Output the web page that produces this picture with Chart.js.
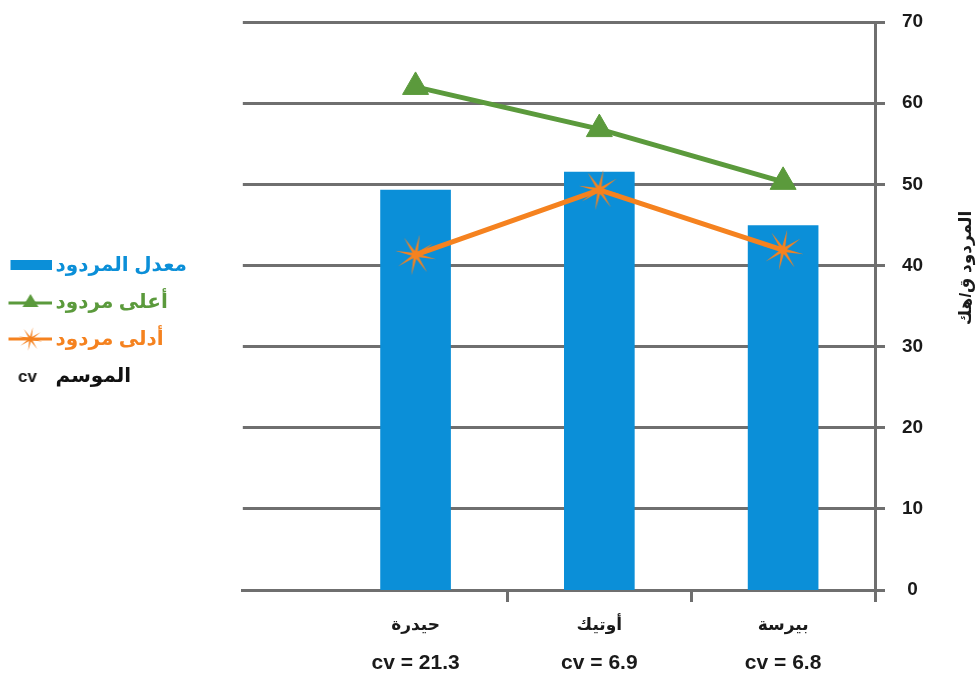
<!DOCTYPE html>
<html>
<head>
<meta charset="utf-8">
<title>المردود</title>
<script src="https://cdn.jsdelivr.net/npm/chart.js@4.4.0/dist/chart.umd.min.js"></script>
<style>
  body { margin: 0; background: #fff; }
  canvas { display: block; }
</style>
</head>
<body>
<canvas id="yieldChart" width="980" height="684"></canvas>
<script>
// values
const varieties = ['حيدرة', 'أوتيك', 'بيرسة'];
const meanYield = [49.3, 51.5, 44.9];
const maxYield = [62.0, 56.8, 50.3];
const minYield = [41.3, 49.3, 41.9];
const cvValues = [21.3, 6.9, 6.8];
const yTicks = [0, 10, 20, 30, 40, 50, 60, 70];

const legendNames = ['معدل المردود', 'أعلى مردود', 'أدلى مردود', 'الموسم'];
const yTitle = 'المردود ق/هك';

const BLUE = '#0b8fd8';
const GREEN = '#5b9a3c';
const ORANGE = '#f5821f';
const GRID = '#6f6f6f';
const FONT = '"Liberation Sans", "DejaVu Sans", Arial, sans-serif';

Chart.defaults.font.family = FONT;

// small canvases used as marker shapes
function makeIcon(w, h, draw) {
  const c = document.createElement('canvas');
  c.width = w;
  c.height = h;
  draw(c.getContext('2d'), w, h);
  return c;
}

function starPath(ctx, cx, cy, outer, inner) {
  ctx.beginPath();
  for (let i = 0; i < 16; i++) {
    const r = i % 2 ? inner : outer;
    const a = -Math.PI / 2 + i * Math.PI / 8 + 0.2;
    ctx.lineTo(cx + Math.cos(a) * r, cy + Math.sin(a) * r);
  }
  ctx.closePath();
}

const starMarker = makeIcon(44, 44, (ctx, w, h) => {
  ctx.fillStyle = ORANGE;
  starPath(ctx, w / 2, h / 2, 21, 4);
  ctx.fill();
});

const barIcon = makeIcon(44, 22, (ctx) => {
  ctx.fillStyle = BLUE;
  ctx.fillRect(3, 6, 42, 10);
});

const greenIcon = makeIcon(44, 22, (ctx) => {
  ctx.strokeStyle = GREEN;
  ctx.lineWidth = 3;
  ctx.beginPath();
  ctx.moveTo(1, 12);
  ctx.lineTo(44, 12);
  ctx.stroke();
  ctx.fillStyle = GREEN;
  ctx.beginPath();
  ctx.moveTo(23, 3);
  ctx.lineTo(31, 16);
  ctx.lineTo(15, 16);
  ctx.closePath();
  ctx.fill();
});

const orangeIcon = makeIcon(44, 26, (ctx) => {
  ctx.strokeStyle = ORANGE;
  ctx.lineWidth = 3;
  ctx.beginPath();
  ctx.moveTo(1, 13);
  ctx.lineTo(44, 13);
  ctx.stroke();
  ctx.fillStyle = ORANGE;
  starPath(ctx, 23, 13, 12, 2.5);
  ctx.fill();
});

const cvIcon = makeIcon(44, 22, (ctx) => {
  ctx.fillStyle = '#111';
  ctx.font = 'bold 17px ' + FONT;
  ctx.textAlign = 'center';
  ctx.textBaseline = 'middle';
  ctx.fillText('cv', 20, 12);
});

const legendColors = [BLUE, GREEN, ORANGE, '#111'];
const legendIcons = [barIcon, greenIcon, orangeIcon, cvIcon];

const toPoints = (vals) => vals.map((v, i) => ({ x: i, y: v }));

// rotated title on the right, reading downward like the original
const yTitlePlugin = {
  id: 'yTitle',
  afterDraw(chart) {
    const { ctx, chartArea } = chart;
    const yScale = chart.scales.y;
    ctx.save();
    ctx.translate(yScale.right - 14, (chartArea.top + chartArea.bottom) / 2 - 38);
    ctx.rotate(-Math.PI / 2);
    ctx.font = 'bold 17px ' + FONT;
    ctx.fillStyle = '#1a1a1a';
    ctx.textAlign = 'center';
    ctx.textBaseline = 'middle';
    ctx.fillText(yTitle, 0, 0);
    ctx.restore();
  }
};

// shared x range so the cv row lines up with the categories
const xMin = -0.94;
const xMax = varieties.length - 0.5;

new Chart(document.getElementById('yieldChart'), {
  type: 'bar',
  data: {
    datasets: [
      {
        type: 'line',
        label: legendNames[1],
        data: toPoints(maxYield),
        borderColor: GREEN,
        backgroundColor: GREEN,
        borderWidth: 5,
        pointStyle: 'triangle',
        pointRadius: 15,
        pointBorderWidth: 1,
        pointBackgroundColor: GREEN,
        pointBorderColor: GREEN,
        order: 0
      },
      {
        type: 'line',
        label: legendNames[2],
        data: toPoints(minYield),
        borderColor: ORANGE,
        backgroundColor: ORANGE,
        borderWidth: 5,
        pointStyle: starMarker,
        order: 0
      },
      {
        type: 'bar',
        label: legendNames[0],
        data: toPoints(meanYield),
        backgroundColor: BLUE,
        borderWidth: 0,
        barThickness: 70,
        order: 1
      }
    ]
  },
  options: {
    responsive: false,
    animation: false,
    devicePixelRatio: 1,
    layout: { padding: { left: -3.5, top: 22, right: 0, bottom: 0 } },
    plugins: {
      tooltip: { enabled: false },
      legend: {
        position: 'left',
        align: 'center',
        fullSize: false,
        maxWidth: 320,
        title: { display: true, text: '', padding: 0, font: { size: 20, lineHeight: 1.45 } },
        labels: {
          usePointStyle: true,
          pointStyleWidth: 32,
          padding: 17,
          font: { size: 20, weight: 'bold' },
          generateLabels: () => legendNames.map((name, i) => ({
            text: name,
            fontColor: legendColors[i],
            fillStyle: legendColors[i],
            strokeStyle: legendColors[i],
            lineWidth: 0,
            pointStyle: legendIcons[i],
            hidden: false
          }))
        }
      }
    },
    scales: {
      x: {
        type: 'linear',
        position: 'bottom',
        weight: 0,
        min: xMin,
        max: xMax,
        offset: false,
        afterBuildTicks: (scale) => {
          scale.ticks = varieties.flatMap((_, i) => [{ value: i }, { value: i + 0.5 }]);
        },
        afterFit: (scale) => { scale.height = 50; },
        grid: {
          offset: false,
          drawOnChartArea: false,
          tickLength: 12,
          lineWidth: 3,
          tickColor: (ctx) => (ctx.tick && !Number.isInteger(ctx.tick.value) ? GRID : 'rgba(0,0,0,0)')
        },
        border: { color: GRID, width: 3 },
        ticks: {
          autoSkip: false,
          maxRotation: 0,
          padding: 13,
          color: '#1a1a1a',
          font: { size: 17, weight: 'bold' },
          callback: (v) => Number.isInteger(v) ? varieties[v] : ''
        }
      },
      cv: {
        type: 'linear',
        axis: 'x',
        position: 'bottom',
        weight: 1,
        min: xMin,
        max: xMax,
        offset: false,
        afterBuildTicks: (scale) => {
          scale.ticks = cvValues.map((_, i) => ({ value: i }));
        },
        afterFit: (scale) => { scale.height = 44; },
        grid: { display: false, drawTicks: false },
        border: { display: false },
        ticks: {
          autoSkip: false,
          maxRotation: 0,
          padding: 11,
          color: '#1a1a1a',
          font: { size: 21, weight: 'bold' },
          callback: (v) => 'cv = ' + cvValues[v]
        }
      },
      pad: {
        type: 'linear',
        axis: 'y',
        position: 'left',
        display: true,
        grid: { display: false },
        border: { display: false },
        ticks: { display: false },
        afterFit: (scale) => { scale.width = 46; }
      },
      y: {
        position: 'right',
        min: 0,
        max: 70,
        afterBuildTicks: (scale) => {
          scale.ticks = yTicks.map((v) => ({ value: v }));
        },
        afterFit: (scale) => {
          scale.width = 105;
          scale.paddingTop = 0;
          scale.paddingBottom = 0;
        },
        grid: { color: GRID, lineWidth: 3, tickLength: 10 },
        border: { color: GRID, width: 3 },
        ticks: {
          padding: 17,
          crossAlign: 'center',
          color: '#1a1a1a',
          font: { size: 19, weight: 'bold' }
        }
      }
    }
  },
  plugins: [yTitlePlugin]
});
</script>
</body>
</html>
